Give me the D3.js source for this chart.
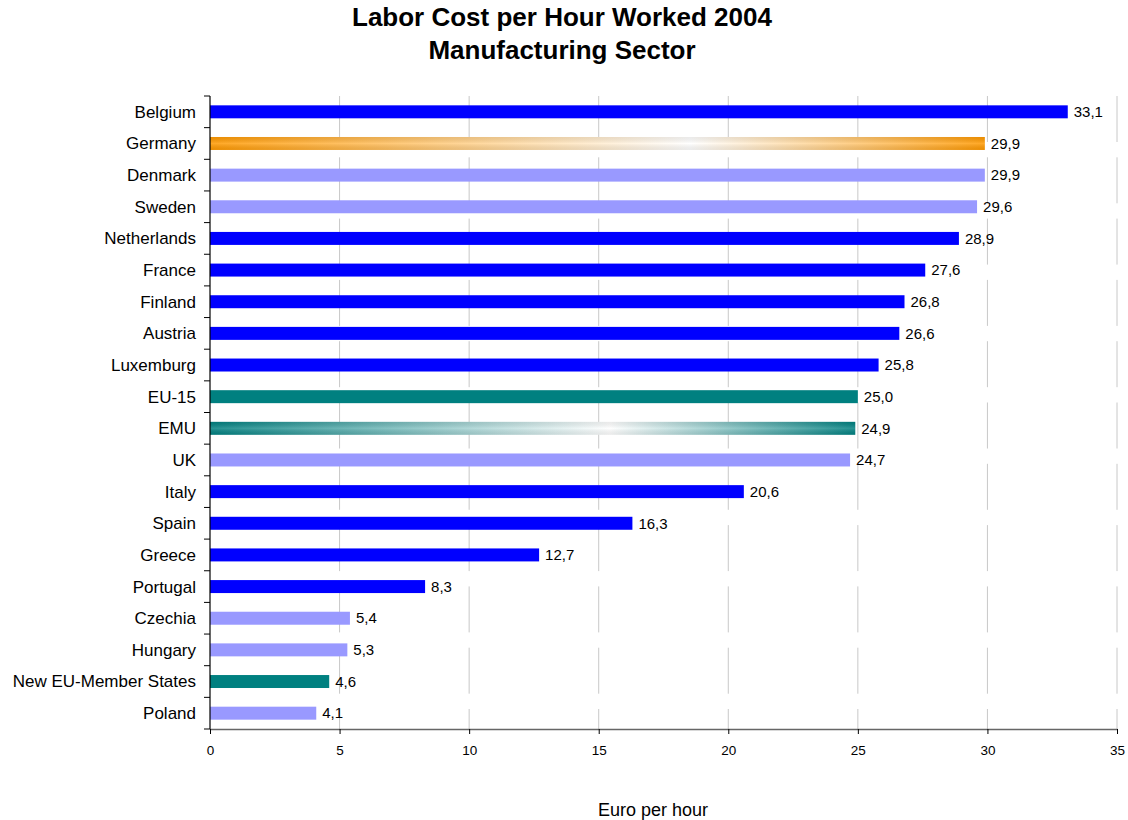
<!DOCTYPE html>
<html><head><meta charset="utf-8">
<script src="https://cdn.jsdelivr.net/npm/d3@7"></script>
<style>
body{margin:0;background:#fff;}
text{font-family:"Liberation Sans",Arial,sans-serif;}
</style></head>
<body>
<svg id="chart" width="1128" height="820"></svg>
<script>
const categories = ["Belgium","Germany","Denmark","Sweden","Netherlands","France","Finland","Austria","Luxemburg","EU-15","EMU","UK","Italy","Spain","Greece","Portugal","Czechia","Hungary","New EU-Member States","Poland"];
const values = [33.1,29.9,29.9,29.6,28.9,27.6,26.8,26.6,25.8,25.0,24.9,24.7,20.6,16.3,12.7,8.3,5.4,5.3,4.6,4.1];
const groups = ["euro","germany","nonEuro","nonEuro","euro","euro","euro","euro","euro","aggregate","emu","nonEuro","euro","euro","euro","euro","new","new","aggregate","new"];
const xTicks = [0,5,10,15,20,25,30,35];
const title = ["Labor Cost per Hour Worked 2004","Manufacturing Sector"];
const xTitle = "Euro per hour";

const fills = {euro:"#0000FF", nonEuro:"#9999FF", new:"#9999FF", aggregate:"#008080", germany:"url(#gGermany)", emu:"url(#gEmu)"};

const svg = d3.select("#chart");
const pLeft = 210, pRight = 1117, pTop = 96, pBottom = 729;

const defs = svg.append("defs");
function grad(id, c){
  const g = defs.append("linearGradient").attr("id", id).attr("x1","0%").attr("x2","100%").attr("y1","0%").attr("y2","0%");
  g.append("stop").attr("offset","0%").attr("stop-color",c);
  g.append("stop").attr("offset","62%").attr("stop-color","#ffffff");
  g.append("stop").attr("offset","100%").attr("stop-color",c);
}
grad("gGermany","#FF9900");
grad("gEmu","#008080");
const vg = defs.append("linearGradient").attr("id","gV").attr("x1","0").attr("x2","0").attr("y1","0").attr("y2","1");
vg.append("stop").attr("offset","0%").attr("stop-color","#000").attr("stop-opacity",0.08);
vg.append("stop").attr("offset","50%").attr("stop-color","#fff").attr("stop-opacity",0.15);
vg.append("stop").attr("offset","100%").attr("stop-color","#000").attr("stop-opacity",0.08);

const x = d3.scaleLinear().domain([0,35]).range([pLeft,pRight]);
const y = d3.scaleBand().domain(categories).range([pTop,pBottom]).paddingInner(0.59).paddingOuter(0.295);
const yb = d3.scaleBand().domain(categories).range([pTop,pBottom]);

// gridlines
svg.append("g").selectAll("line").data(xTicks.filter(d=>d>0)).join("line")
  .attr("x1",d=>x(d)).attr("x2",d=>x(d)).attr("y1",pTop).attr("y2",pBottom)
  .attr("stroke","#c8c8c8").attr("stroke-width",1).attr("stroke-dasharray","46,15.3");

// bars
const data = categories.map((c,i)=>({c, v:values[i], g:groups[i]}));
svg.append("g").selectAll("rect").data(data).join("rect")
  .attr("x",x(0)).attr("y",d=>y(d.c)).attr("width",d=>x(d.v)-x(0)).attr("height",y.bandwidth())
  .attr("fill",d=>fills[d.g]);
svg.append("g").selectAll("rect").data(data.filter(d=>d.g==="germany"||d.g==="emu")).join("rect")
  .attr("x",x(0)).attr("y",d=>y(d.c)).attr("width",d=>x(d.v)-x(0)).attr("height",y.bandwidth())
  .attr("fill","url(#gV)");

// value labels
svg.append("g").selectAll("text").data(data).join("text")
  .attr("x",d=>x(d.v)+6).attr("y",d=>y(d.c)+y.bandwidth()/2).attr("dy","0.35em")
  .attr("font-size",15).attr("fill","#000")
  .text(d=>d3.format(".1f")(d.v).replace(".",","));

// x axis
const xa = svg.append("g").attr("transform",`translate(0,${pBottom})`)
  .call(d3.axisBottom(x).tickValues(xTicks).tickSize(5).tickSizeOuter(0).tickPadding(11));
xa.select(".domain").attr("stroke","#666").attr("stroke-width",1.5);
xa.selectAll(".tick line").attr("stroke","#000");
xa.selectAll("text").attr("font-size",13.5).attr("fill","#000").attr("font-family","Liberation Sans, Arial, sans-serif");

// y axis
svg.append("line").attr("x1",pLeft).attr("x2",pLeft).attr("y1",pTop).attr("y2",pBottom).attr("stroke","#000").attr("stroke-width",1.2);
const bounds = categories.map(c=>yb(c)).concat([pBottom]);
svg.append("g").selectAll("line").data(bounds).join("line")
  .attr("x1",pLeft-6).attr("x2",pLeft).attr("y1",d=>d).attr("y2",d=>d).attr("stroke","#000");
svg.append("g").selectAll("text").data(categories).join("text")
  .attr("x",pLeft-14).attr("y",c=>yb(c)+yb.bandwidth()/2).attr("dy","0.35em")
  .attr("text-anchor","end").attr("font-size",17).attr("fill","#000").text(c=>c);

// titles
svg.append("text").attr("x",562).attr("y",26).attr("text-anchor","middle").attr("font-size",26).attr("font-weight","bold").text(title[0]);
svg.append("text").attr("x",562).attr("y",59).attr("text-anchor","middle").attr("font-size",26).attr("font-weight","bold").text(title[1]);
svg.append("text").attr("x",653).attr("y",816).attr("text-anchor","middle").attr("font-size",18).text(xTitle);
</script>
</body></html>
